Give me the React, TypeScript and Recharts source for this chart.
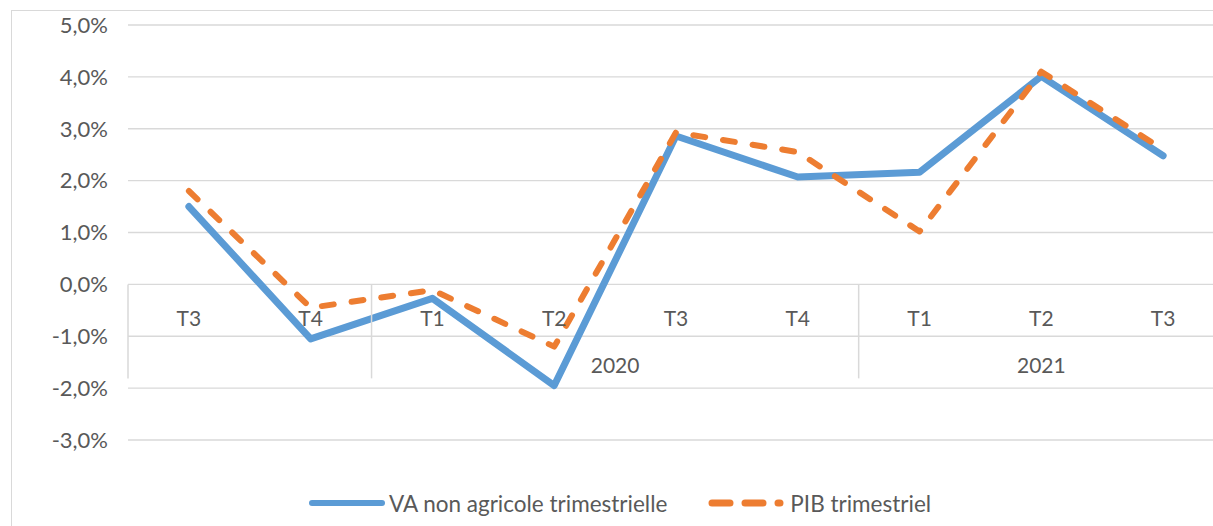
import React from 'react';
import { LineChart, Line, XAxis, YAxis, CartesianGrid, Legend } from 'recharts';

// categories (quarter + year group), year label left blank where the reference shows none
const quarters = ['T3', 'T4', 'T1', 'T2', 'T3', 'T4', 'T1', 'T2', 'T3'];
const years = ['', '', '2020', '2020', '2020', '2020', '2021', '2021', '2021'];

// series values in %
const vaNonAgricole = [1.5, -1.05, -0.27, -1.95, 2.86, 2.07, 2.16, 4.01, 2.48];
const pibTrimestriel = [1.8, -0.45, -0.11, -1.2, 2.93, 2.55, 1.02, 4.1, 2.6];

const yTicks = [-3, -2, -1, 0, 1, 2, 3, 4, 5];

const data = quarters.map((q, i) => ({
  key: `${i}-${q}`,
  quarter: q,
  year: years[i],
  va: vaNonAgricole[i],
  pib: pibTrimestriel[i],
}));

const FONT = "Lato, 'Open Sans', sans-serif";
const TEXT = '#595959';
const GRID = '#d9d9d9';
const BLUE = '#5B9BD5';
const ORANGE = '#ED7D31';

const CHART_W = 1240;
const CHART_H = 526;
const MARGIN = { top: 25, right: 16, left: 0, bottom: 8 };
const YAXIS_W = 128;
const XAXIS_H = 48;
const LEGEND_H = 30;
const Y_MIN = -3;
const Y_MAX = 5;

const PLOT_W = CHART_W - MARGIN.left - MARGIN.right - YAXIS_W;
const PLOT_H = CHART_H - MARGIN.top - MARGIN.bottom - XAXIS_H - LEGEND_H;
const BAND = PLOT_W / quarters.length;
// the category axis crosses at 0
const ZERO_Y = MARGIN.top + (PLOT_H * Y_MAX) / (Y_MAX - Y_MIN);

const QuarterTick = (props: any) => {
  const { x, index } = props;
  const i = index as number;
  const newGroup = i === 0 || years[i] !== years[i - 1];
  let groupSize = 0;
  if (newGroup) {
    while (i + groupSize < years.length && years[i + groupSize] === years[i]) groupSize++;
  }
  return (
    <g>
      <text
        x={x}
        y={ZERO_Y + 33}
        textAnchor="middle"
        dominantBaseline="central"
        fill={TEXT}
        fontSize={21}
        fontFamily={FONT}
      >
        {quarters[i]}
      </text>
      {newGroup && (
        <line x1={x - BAND / 2} x2={x - BAND / 2} y1={ZERO_Y} y2={ZERO_Y + 94} stroke={GRID} strokeWidth={1.5} />
      )}
      {newGroup && years[i] && (
        <text
          x={x + ((groupSize - 1) * BAND) / 2}
          y={ZERO_Y + 80}
          textAnchor="middle"
          dominantBaseline="central"
          fill={TEXT}
          fontSize={21}
          fontFamily={FONT}
        >
          {years[i]}
        </text>
      )}
    </g>
  );
};

const LegendContent = () => (
  <div
    style={{
      height: LEGEND_H,
      display: 'flex',
      justifyContent: 'center',
      alignItems: 'center',
      marginLeft: 15,
      fontFamily: FONT,
      fontSize: 22.5,
      color: TEXT,
    }}
  >
    <svg width={78} height={10} style={{ marginRight: 3 }}>
      <line x1={4} y1={5} x2={74} y2={5} stroke={BLUE} strokeWidth={6} strokeLinecap="round" />
    </svg>
    <span style={{ marginRight: 41 }}>VA non agricole trimestrielle</span>
    <svg width={80} height={10} style={{ marginRight: 2 }}>
      <line
        x1={4}
        y1={5}
        x2={72}
        y2={5}
        stroke={ORANGE}
        strokeWidth={7}
        strokeLinecap="round"
        strokeDasharray="18 15"
      />
    </svg>
    <span>PIB trimestriel</span>
  </div>
);

const App = () => (
  <div
    style={{
      position: 'fixed',
      left: 0,
      top: 0,
      width: 1213,
      height: 526,
      overflow: 'hidden',
      background: '#fff',
    }}
  >
    <div
      style={{
        position: 'absolute',
        left: 11,
        top: 10,
        width: 1400,
        height: 700,
        border: `1.5px solid ${GRID}`,
      }}
    />
    <div style={{ position: 'absolute', left: 0, top: 0 }}>
      <LineChart width={CHART_W} height={CHART_H} data={data} margin={MARGIN}>
        <CartesianGrid vertical={false} stroke={GRID} strokeWidth={1.3} />
        <XAxis
          dataKey="key"
          height={XAXIS_H}
          interval={0}
          axisLine={false}
          tickLine={false}
          padding={{ left: BAND / 2, right: BAND / 2 }}
          tick={(p: any) => <QuarterTick {...p} />}
        />
        <YAxis
          width={YAXIS_W}
          domain={[Y_MIN, Y_MAX]}
          ticks={yTicks}
          interval={0}
          axisLine={false}
          tickLine={false}
          tickSize={0}
          tickMargin={20}
          tickFormatter={(v: number) => `${v.toFixed(1).replace('.', ',')}%`}
          tick={{ fill: TEXT, fontSize: 22, fontFamily: FONT }}
        />
        <Legend verticalAlign="bottom" height={LEGEND_H} content={() => <LegendContent />} />
        <Line
          dataKey="va"
          name="VA non agricole trimestrielle"
          stroke={BLUE}
          strokeWidth={7}
          strokeLinejoin="round"
          strokeLinecap="round"
          dot={false}
          activeDot={false}
          isAnimationActive={false}
        />
        <Line
          dataKey="pib"
          name="PIB trimestriel"
          stroke={ORANGE}
          strokeWidth={6}
          strokeLinejoin="round"
          strokeLinecap="round"
          strokeDasharray="12 18"
          dot={false}
          activeDot={false}
          isAnimationActive={false}
        />
      </LineChart>
    </div>
  </div>
);

export default App;
